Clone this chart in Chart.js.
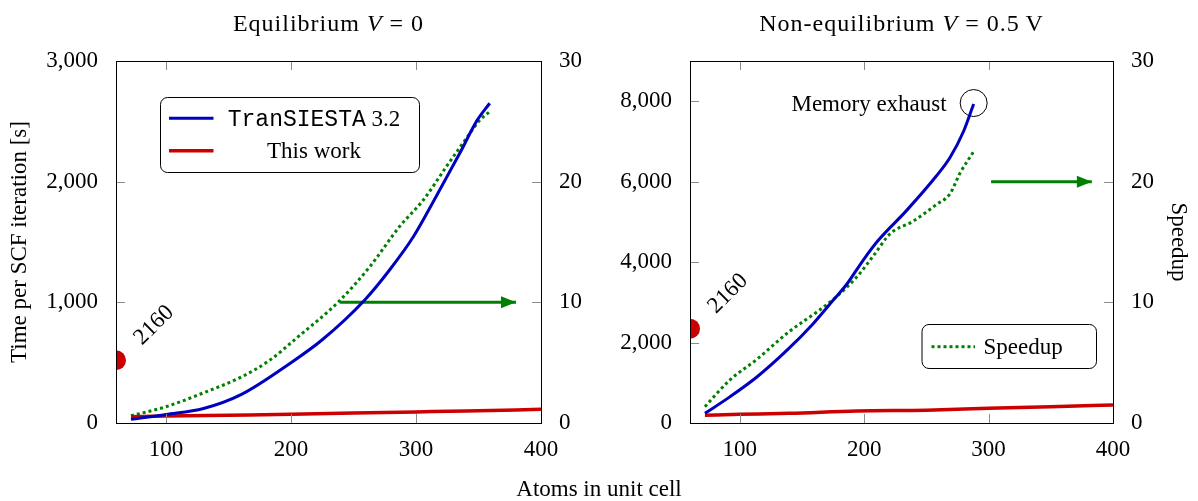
<!DOCTYPE html>
<html>
<head>
<meta charset="utf-8">
<title>TranSIESTA vs this work</title>
<script src="https://cdn.jsdelivr.net/npm/chart.js@4.4.0/dist/chart.umd.min.js"></script>
<style>
  body { margin: 0; background: #fff; width: 1198px; height: 501px; position: relative; overflow: hidden; }
  canvas { position: absolute; top: 0; }
  #xtitle { position: absolute; left: 0; width: 1198px; top: 477px; text-align: center;
            font: 23px/23px "Liberation Serif", serif; color: #000; }
</style>
</head>
<body>
<canvas id="eq" width="599" height="501" style="left:0"></canvas>
<canvas id="neq" width="599" height="501" style="left:599px"></canvas>
<div id="xtitle">Atoms in unit cell</div>

<script>
// ---- data ----
const atomTicks = [100, 200, 300, 400];
const speedTicks = [0, 10, 20, 30];
const eqTimeTicks = [0, 1000, 2000, 3000];
const neqTimeTicks = [0, 2000, 4000, 6000, 8000];

// Equilibrium V = 0
const eqSiestaAtoms = [72, 100, 130, 160, 200, 225, 259, 279, 298, 316, 335, 349, 359];
const eqSiestaTime  = [30, 70, 120, 235, 500, 690, 1020, 1270, 1545, 1875, 2235, 2510, 2650];
const eqWorkAtoms = [72, 100, 150, 200, 230, 250, 300, 340, 400];
const eqWorkTime  = [52, 58, 65, 72, 78, 82, 92, 100, 113];
const eqSpeedAtoms = [72, 100, 130, 160, 183, 204, 238, 263, 287, 306, 324, 341, 351, 359];
const eqSpeedup    = [0.6, 1.35, 2.5, 3.8, 5.2, 7.0, 10.05, 12.95, 16.3, 18.5, 21.2, 23.7, 25.1, 25.8];
const eqDotAtoms = [60];
const eqDotTime = [520];
const eqArrowAtoms = [239, 380];
const eqArrowSpeed = [10, 10];

// Non-equilibrium V = 0.5 V
const neqSiestaAtoms = [72, 92, 114, 138, 159, 175, 186, 199, 211, 234, 258, 269, 280, 288];
const neqSiestaTime  = [240, 650, 1150, 1810, 2470, 3050, 3450, 4040, 4530, 5280, 6140, 6600, 7260, 7930];
const neqWorkAtoms = [72, 100, 140, 194, 250, 300, 350, 400];
const neqWorkTime  = [195, 215, 240, 300, 320, 365, 405, 450];
const neqSpeedAtoms = [72, 92, 114, 140, 162, 178, 194, 207, 221, 239, 258, 269, 277, 288];
const neqSpeedup    = [1.35, 3.56, 5.3, 7.6, 9.2, 10.5, 12.1, 13.8, 15.7, 16.7, 18.1, 19.0, 20.7, 22.5];
const neqDotAtoms = [60];
const neqDotTime = [2345];
const neqArrowAtoms = [302, 383];
const neqArrowSpeed = [20, 20];

const dotLabel = '2160';

// ---- styling ----
const SERIF = '"Liberation Serif", serif';
const MONO = '"Liberation Mono", monospace';
const FS = 23;
const fNormal = FS + 'px ' + SERIF;
const fItalic = 'italic ' + FS + 'px ' + SERIF;
const fMono = FS + 'px ' + MONO;
const fTitle = '24px ' + SERIF;
const fTitleIt = 'italic 24px ' + SERIF;
const BLUE = 'rgb(0,0,191)', RED = 'rgb(204,0,0)', GREEN = 'rgb(0,128,0)';

Chart.defaults.font.family = SERIF;
Chart.defaults.font.size = FS;
Chart.defaults.color = '#000';

function pts(xs, ys) { return xs.map((x, i) => ({ x: x, y: ys[i] })); }

function drawRuns(ctx, runs, x, y, align, spacing) {
  ctx.save();
  ctx.letterSpacing = (spacing || 0) + 'px';
  let w = 0;
  runs.forEach(r => { ctx.font = r[1]; w += ctx.measureText(r[0]).width; });
  let cx = align === 'center' ? x - w / 2 : (align === 'right' ? x - w : x);
  ctx.textAlign = 'left';
  ctx.textBaseline = 'alphabetic';
  runs.forEach(r => { ctx.font = r[1]; ctx.fillText(r[0], cx, y); cx += ctx.measureText(r[0]).width; });
  ctx.restore();
}

function line(ctx, x0, y0, x1, y1) {
  ctx.beginPath(); ctx.moveTo(x0, y0); ctx.lineTo(x1, y1); ctx.stroke();
}

// frame, inward ticks, title, legend, annotations
const decor = {
  id: 'decor',
  beforeDatasetsDraw(chart) {
    // everything plotted is cut by the plot box (the red marker sits on the axis)
    const a = chart.chartArea, ctx = chart.ctx;
    ctx.save();
    ctx.beginPath();
    ctx.rect(a.left, a.top, a.right - a.left, a.bottom - a.top);
    ctx.clip();
  },
  afterDatasetsDraw(chart, args, o) {
    const ctx = chart.ctx;
    ctx.restore();
    // arrow head on the speedup arrow
    const am = chart.getDatasetMeta(4).data;
    const p0 = am[0], p1 = am[am.length - 1];
    const ang = Math.atan2(p1.y - p0.y, p1.x - p0.x);
    ctx.save();
    ctx.translate(p1.x, p1.y);
    ctx.rotate(ang);
    ctx.fillStyle = GREEN;
    ctx.beginPath(); ctx.moveTo(0, 0); ctx.lineTo(-15, -6); ctx.lineTo(-15, 6); ctx.closePath(); ctx.fill();
    ctx.restore();
  },
  afterDraw(chart, args, o) {
    const { ctx, chartArea: a, scales } = chart;
    ctx.save();
    ctx.lineWidth = 1;
    // inward tick marks
    const TL = 9;
    ctx.strokeStyle = '#8c8c8c';
    scales.x.ticks.forEach(t => {
      const px = Math.round(scales.x.getPixelForValue(t.value)) + 0.5;
      line(ctx, px, a.bottom, px, a.bottom - TL);
      line(ctx, px, a.top, px, a.top + TL);
    });
    scales.y.ticks.forEach(t => {
      const py = Math.round(scales.y.getPixelForValue(t.value)) + 0.5;
      line(ctx, a.left, py, a.left + TL, py);
    });
    scales.y2.ticks.forEach(t => {
      const py = Math.round(scales.y2.getPixelForValue(t.value)) + 0.5;
      line(ctx, a.right, py, a.right - TL, py);
    });
    // frame
    ctx.strokeStyle = '#000';
    ctx.strokeRect(Math.round(a.left) + 0.5, Math.round(a.top) + 0.5,
                   Math.round(a.right - a.left), Math.round(a.bottom - a.top));

    ctx.fillStyle = '#000';
    // title
    drawRuns(ctx, o.title, (a.left + a.right) / 2, 31, 'center', 1);

    // legend box
    const L = o.legend;
    ctx.beginPath();
    ctx.roundRect(a.left + L.box[0] + 0.5, a.top + L.box[1] + 0.5, L.box[2], L.box[3], 7);
    ctx.fillStyle = '#fff'; ctx.fill();
    ctx.strokeStyle = '#000'; ctx.lineWidth = 1; ctx.stroke();
    L.entries.forEach(e => {
      const ds = chart.data.datasets[e.ds];
      ctx.save();
      ctx.strokeStyle = ds.borderColor;
      ctx.lineWidth = ds.borderWidth;
      ctx.setLineDash(ds.borderDash || []);
      line(ctx, a.left + L.sample[0], a.top + e.y, a.left + L.sample[1], a.top + e.y);
      ctx.restore();
      ctx.fillStyle = '#000';
      drawRuns(ctx, e.runs, a.left + L.textX, a.top + e.y + 7.7, L.align);
    });

    // rotated label next to the red dot
    const dot = chart.getDatasetMeta(3).data[0];
    ctx.save();
    ctx.translate(dot.x + 38, dot.y - 35);
    ctx.rotate(-Math.PI / 4);
    ctx.font = fNormal; ctx.fillStyle = '#000';
    ctx.textAlign = 'center'; ctx.textBaseline = 'middle';
    ctx.fillText(dotLabel, 0, 0);
    ctx.restore();

    // memory exhaust marker
    if (o.memory) {
      const bm = chart.getDatasetMeta(0).data;
      const pe = bm[bm.length - 1];
      ctx.strokeStyle = '#000'; ctx.lineWidth = 1;
      ctx.beginPath(); ctx.arc(pe.x, pe.y - 1, 13.5, 0, Math.PI * 2); ctx.stroke();
      ctx.fillStyle = '#000';
      drawRuns(ctx, [[o.memory, fNormal]], pe.x - 27, pe.y + 7, 'right');
    }
    ctx.restore();
  }
};

function makeChart(id, d) {
  const fixedTicks = arr => (scale => { scale.ticks = arr.map(v => ({ value: v })); });
  return new Chart(document.getElementById(id), {
    type: 'line',
    data: {
      datasets: [
        { label: 'TranSIESTA 3.2', data: pts(d.siestaX, d.siestaY), yAxisID: 'y',
          borderColor: BLUE, borderWidth: 3, pointRadius: 0, cubicInterpolationMode: 'monotone' },
        { label: 'This work', data: pts(d.workX, d.workY), yAxisID: 'y',
          borderColor: RED, borderWidth: 3.5, pointRadius: 0, cubicInterpolationMode: 'monotone' },
        { label: 'Speedup', data: pts(d.speedX, d.speedY), yAxisID: 'y2',
          borderColor: GREEN, borderWidth: 3, borderDash: [3, 3], borderCapStyle: 'butt',
          pointRadius: 0, cubicInterpolationMode: 'monotone' },
        { label: 'dot', data: pts(d.dotX, d.dotY), yAxisID: 'y', showLine: false, clip: 0,
          pointRadius: 10, pointBackgroundColor: RED, pointBorderWidth: 0, borderColor: RED },
        { label: 'arrow', data: pts(d.arrowX, d.arrowY), yAxisID: 'y2',
          borderColor: GREEN, borderWidth: 3, pointRadius: 0 }
      ]
    },
    options: {
      responsive: false,
      animation: false,
      locale: 'en-US',
      layout: { padding: { top: 61, left: 0, right: 0, bottom: 0 } },
      scales: {
        x: {
          type: 'linear', min: 60, max: 400,
          afterBuildTicks: fixedTicks(atomTicks),
          afterFit: s => { s.height = 78; },
          grid: { display: false }, border: { display: false },
          ticks: { padding: 5, maxRotation: 0 }
        },
        y: {
          type: 'linear', position: 'left', min: 0, max: d.timeMax,
          afterBuildTicks: fixedTicks(d.timeTicks),
          afterFit: s => { s.width = d.leftW; },
          grid: { display: false }, border: { display: false },
          ticks: { padding: 10 },
          title: { display: !!d.leftTitle, text: d.leftTitle || '', padding: { top: 6, bottom: 0 } }
        },
        y2: {
          type: 'linear', position: 'right', min: 0, max: 30,
          afterBuildTicks: fixedTicks(speedTicks),
          afterFit: s => { s.width = d.rightW; },
          grid: { display: false }, border: { display: false },
          ticks: { padding: 10 },
          title: { display: !!d.rightTitle, text: d.rightTitle || '', padding: { top: 6, bottom: 0 } }
        }
      },
      plugins: {
        legend: { display: false },
        tooltip: { enabled: false },
        decor: {
          title: d.title,
          legend: d.legend,
          memory: d.memory
        }
      }
    },
    plugins: [decor]
  });
}

makeChart('eq', {
  siestaX: eqSiestaAtoms, siestaY: eqSiestaTime,
  workX: eqWorkAtoms, workY: eqWorkTime,
  speedX: eqSpeedAtoms, speedY: eqSpeedup,
  dotX: eqDotAtoms, dotY: eqDotTime,
  arrowX: eqArrowAtoms, arrowY: eqArrowSpeed,
  timeMax: 3000, timeTicks: eqTimeTicks,
  leftW: 116, rightW: 58,
  leftTitle: 'Time per SCF iteration [s]',
  title: [['Equilibrium ', fTitle], ['V', fTitleIt], [' = 0', fTitle]],
  legend: {
    box: [44, 36, 259, 75], sample: [53, 97.5], textX: 198, align: 'center',
    entries: [
      { ds: 0, y: 57.3, runs: [['TranSIESTA', fMono], [' 3.2', fNormal]] },
      { ds: 1, y: 89.7, runs: [['This work', fNormal]] }
    ]
  }
});

makeChart('neq', {
  siestaX: neqSiestaAtoms, siestaY: neqSiestaTime,
  workX: neqWorkAtoms, workY: neqWorkTime,
  speedX: neqSpeedAtoms, speedY: neqSpeedup,
  dotX: neqDotAtoms, dotY: neqDotTime,
  arrowX: neqArrowAtoms, arrowY: neqArrowSpeed,
  timeMax: 9000, timeTicks: neqTimeTicks,
  leftW: 91, rightW: 85,
  rightTitle: 'Speedup',
  title: [['Non-equilibrium ', fTitle], ['V', fTitleIt], [' = 0.5\u2009V', fTitle]],
  memory: 'Memory exhaust',
  legend: {
    box: [231.5, 263, 174.5, 44], sample: [241.5, 285], textX: 293.5, align: 'left',
    entries: [
      { ds: 2, y: 285.7, runs: [['Speedup', fNormal]] }
    ]
  }
});
</script>
</body>
</html>
